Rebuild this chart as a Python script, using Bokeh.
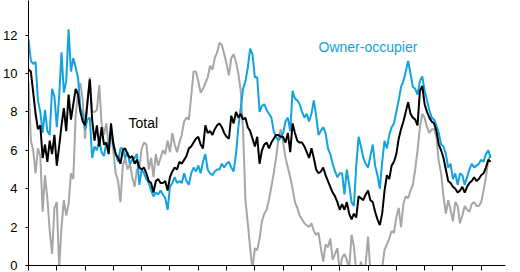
from bokeh.plotting import figure
from bokeh.models import Range1d, FixedTicker, Label
from bokeh.core.properties import value
from bokeh.embed import file_html
from bokeh.resources import INLINE

# Monthly index (0 = first month of the sample)
months = list(range(197))

total = [10.2, 10.1, 9.0, 7.9, 7.1, 7.3, 5.6, 6.3, 5.4, 6.5, 5.8, 6.8, 5.2, 6.2, 7.3, 8.2, 7.0, 8.9, 7.6, 8.4,
         9.2, 8.9, 8.0, 7.5, 7.3, 8.5, 9.7, 7.6, 6.5, 7.3, 6.2, 7.2, 6.3, 6.4, 5.8, 7.4, 6.3, 5.8, 5.6, 5.3,
         6.0, 6.1, 5.8, 5.6, 5.7, 5.3, 5.5, 5.1, 5.0, 5.1, 4.8, 4.4, 4.3, 3.8, 4.4, 4.5, 4.3, 4.3, 4.4, 3.9,
         4.6, 4.9, 5.1, 5.0, 5.4, 5.3, 5.5, 5.7, 6.1, 6.2, 6.4, 6.6, 6.7, 6.3, 6.1, 7.3, 6.9, 7.0, 6.8, 7.1,
         7.3, 7.4, 7.2, 6.9, 6.7, 6.6, 7.8, 7.4, 8.0, 7.7, 7.9, 7.6, 7.7, 7.2, 7.0, 6.6, 6.2, 6.7, 5.3, 6.0,
         6.3, 6.4, 6.1, 6.4, 6.6, 6.8, 6.8, 6.7, 6.7, 6.4, 6.9, 5.9, 7.4, 6.9, 6.5, 6.4, 6.4, 6.2, 5.9, 5.6,
         6.1, 5.6, 5.0, 4.8, 4.9, 5.1, 4.7, 4.4, 4.1, 3.8, 3.6, 3.3, 2.9, 3.2, 2.9, 3.3, 2.7, 2.4, 2.7, 2.5,
         3.6, 3.5, 3.4, 3.7, 3.9, 3.4, 3.3, 2.8, 2.4, 2.1, 2.7, 3.9, 4.7, 4.5, 5.2, 5.4, 5.8, 6.6, 7.1, 7.5,
         8.0, 8.5, 7.9, 7.7, 7.6, 7.3, 9.1, 9.35, 8.4, 8.0, 7.7, 7.5, 7.4, 7.0, 6.3, 6.0, 5.6, 5.0, 4.4, 4.3,
         4.1, 4.0, 3.8, 3.9, 4.1, 3.8, 4.1, 4.3, 4.4, 4.6, 4.4, 4.5, 4.7, 4.8, 5.1, 5.5, 5.4]

owner_occupier = [11.8, 10.65, 10.5, 10.6, 8.6, 8.0, 6.9, 8.1, 7.0, 6.8, 9.2, 8.8, 7.2, 8.8, 11.1, 9.0, 9.6, 12.3, 10.1, 10.8,
                  10.3, 9.8, 8.2, 7.9, 7.1, 7.6, 7.7, 5.6, 6.2, 6.0, 6.5, 5.9, 5.7, 6.4, 6.0, 7.0, 6.4, 5.8, 5.4, 6.1,
                  6.1, 5.6, 5.9, 5.3, 5.5, 5.6, 5.8, 4.2, 5.0, 4.8, 4.5, 4.3, 3.9, 3.6, 3.8, 3.7, 3.9, 3.7, 3.5, 2.9,
                  4.1, 4.3, 4.6, 4.3, 4.4, 4.3, 4.8, 4.4, 4.2, 4.8, 5.1, 4.9, 5.2, 4.8, 5.4, 5.8, 5.0, 4.8, 4.7, 4.9,
                  5.0, 5.0, 5.3, 5.1, 5.3, 5.4, 5.1, 4.9, 5.8, 7.2, 8.2, 9.2, 9.6, 10.3, 11.3, 11.0, 9.8, 9.8, 8.0, 8.3,
                  8.4, 8.1, 7.9, 7.7, 7.0, 6.7, 6.5, 6.7, 6.9, 7.5, 7.7, 7.0, 9.1, 8.7, 8.6, 8.4, 8.0, 7.7, 7.9, 7.5,
                  7.9, 8.6, 7.8, 6.8, 7.0, 7.2, 6.9, 6.1, 5.8, 5.3, 4.9, 4.6, 4.8, 4.8, 3.7, 5.0, 4.2, 3.3, 3.1, 5.2,
                  6.7, 6.2, 5.6, 5.3, 5.1, 5.7, 6.3, 5.2, 4.7, 4.0, 5.4, 6.5, 6.1, 6.8, 7.2, 7.4, 8.0, 8.6, 9.3, 9.6,
                  10.1, 10.65, 10.0, 9.3, 9.2, 8.9, 9.6, 9.85, 9.1, 8.6, 8.1, 7.7, 7.6, 7.3, 6.9, 6.3, 6.2, 5.8, 5.1, 5.3,
                  4.5, 4.8, 4.2, 4.8, 4.7, 4.2, 4.6, 5.0, 5.3, 5.1, 5.2, 5.3, 5.5, 5.4, 5.8, 6.0, 5.6]

investor = [9.6, 6.5, 6.0, 4.8, 6.1, 5.7, 2.8, 4.7, 3.5, 1.8, 0.6, 3.0, 3.3, -0.1, 2.0, 3.4, 2.6, 3.2, 4.8, 4.5,
            7.8, 9.0, 9.5, 8.6, 6.6, 8.5, 9.8, 8.0, 8.0, 8.1, 9.4, 7.4, 6.8, 7.4, 6.2, 7.1, 5.9, 4.8, 4.4, 3.3,
            5.2, 5.6, 5.0, 5.3, 4.6, 4.1, 5.0, 5.1, 6.1, 6.4, 6.3, 5.0, 5.6, 4.6, 5.8, 5.2, 5.6, 6.0, 5.8, 6.5,
            5.9, 6.9, 6.3, 5.9, 6.4, 6.8, 7.5, 7.7, 7.6, 8.8, 10.1, 10.1, 9.6, 9.0, 9.2, 9.5, 9.8, 10.4, 10.2, 10.8,
            11.1, 11.6, 11.5, 11.0, 10.5, 9.9, 10.8, 11.0, 10.6, 10.0, 9.1, 7.0, 3.4, 2.2, 0.9, -0.2, 0.9, 0.8, 1.4, 2.3,
            2.7, 2.9, 3.45, 4.1, 4.8, 5.6, 6.6, 7.1, 6.4, 5.6, 5.1, 4.6, 4.0, 3.3, 3.0, 2.6, 2.4, 2.2, 2.1, 2.0,
            2.2, 1.8, 1.6, 1.7, 0.9, 0.2, 1.1, 0.95, 1.4, 0.3, 0.6, 0.9, -0.3, 0.4, 0.6, 0.3, -0.2, 1.6, 1.0, -0.3,
            -0.4, 0.2, -0.3, 0.1, 1.5, -0.3, -0.5, -0.3, -0.4, -0.2, -0.1, 0.8, 1.1, 1.4, 1.8, 1.7, 2.5, 3.0, 2.0, 3.2,
            3.6, 3.5, 3.9, 4.2, 5.0, 6.0, 7.2, 7.9, 7.7, 7.2, 6.9, 7.1, 7.1, 6.7, 5.4, 4.8, 3.6, 2.7, 3.4, 2.9,
            2.3, 3.3, 3.1, 2.2, 2.6, 3.1, 2.9, 2.8, 3.2, 3.3, 3.1, 3.1, 3.3, 3.9, 4.6, 5.5, 5.8]

y_ticks = [0, 2, 4, 6, 8, 10, 12]
x_ticks = list(range(0, 193, 12))

BLUE = "#12A2E0"
GREY = "#A6A6A6"
FONT = "Liberation Sans"

p = figure(width=520, height=272, output_backend="svg", toolbar_location=None,
           x_range=Range1d(0, 202.3), y_range=Range1d(0, 13.8),
           min_border_left=28, min_border_right=15, min_border_top=0, min_border_bottom=7)
p.outline_line_color = None
p.xgrid.visible = False
p.ygrid.visible = False
p.background_fill_color = "white"
p.border_fill_color = "white"

p.line(months, investor, line_color=GREY, line_width=2)
p.line(months, owner_occupier, line_color=BLUE, line_width=2)
p.line(months, total, line_color="black", line_width=2)

p.text(x=[42.4], y=[7.4], text=["Total"], text_color="black",
       text_font=value(FONT), text_font_size=value("14px"), text_baseline="alphabetic", text_align="left")
p.text(x=[123], y=[11.4], text=["Owner-occupier"], text_color=BLUE,
       text_font=value(FONT), text_font_size=value("14px"), text_baseline="alphabetic", text_align="left")

# y axis
yax = p.yaxis[0]
yax.ticker = FixedTicker(ticks=y_ticks)
yax.minor_tick_line_color = None
yax.major_tick_in = 0
yax.major_tick_out = 3
yax.major_label_standoff = 8
yax.major_label_text_font = FONT
yax.major_label_text_font_size = "13px"
yax.major_label_text_color = "black"
yax.axis_line_color = "black"
yax.major_tick_line_color = "black"

# clipped "14" label at the very top (screen x is relative to the frame)
p.add_layout(Label(x=-11, y=14, x_units="screen", y_units="data", text="14",
                   text_align="right", text_baseline="middle",
                   text_font=FONT, text_font_size="13px", text_color="black"))

# x axis: tick marks only (labels are cut off in the reference)
xax = p.xaxis[0]
xax.ticker = FixedTicker(ticks=[], minor_ticks=x_ticks)
xax.major_tick_line_color = None
xax.minor_tick_in = 0
xax.minor_tick_out = 5
xax.minor_tick_line_color = "black"
xax.major_label_standoff = 0
xax.axis_line_color = "black"

open("out.html", "w").write(file_html(p, INLINE))
